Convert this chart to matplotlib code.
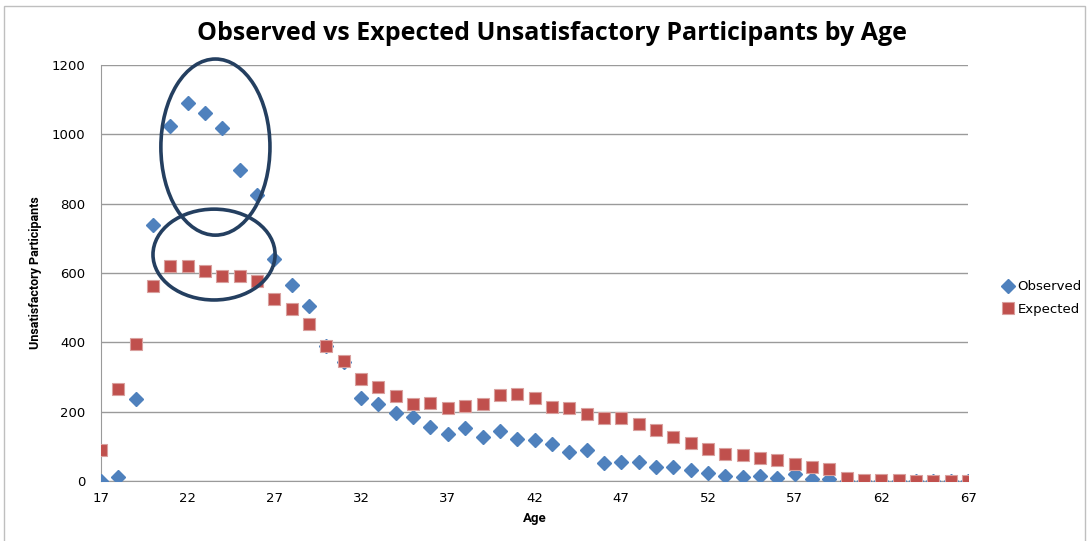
import matplotlib
matplotlib.use("Agg")
import matplotlib.pyplot as plt
from matplotlib.patches import Ellipse, Rectangle
import numpy as np


# ages 17..67
ages = list(range(17, 68))

# observed (blue diamonds)
observed = [0, 10, 236, 737, 1023, 1090, 1062, 1019, 898, 824,
            640, 564, 504, 389, 344, 239, 221, 195, 184, 157,
            136, 153, 128, 145, 120, 118, 108, 83, 90, 53,
            55, 54, 41, 41, 31, 23, 15, 10, 13, 8,
            19, 6, 7, 0, 0, 0, 0, 0, 0, 0, 0]

# expected (red squares)
expected = [89, 265, 396, 563, 619, 619, 605, 591, 590, 578,
            526, 497, 452, 390, 347, 295, 270, 244, 221, 224,
            210, 215, 221, 247, 251, 238, 213, 210, 194, 183,
            183, 164, 146, 127, 109, 93, 79, 75, 66, 59,
            48, 40, 34, 8, 4, 3, 2, 1, 1, 1, 1]

xticks = list(range(17, 68, 5))
yticks = list(range(0, 1201, 200))

blue = "#4F81BD"
red = "#C0504D"
navy = "#243F60"
grid_c = "#9A9A9A"

fig = plt.figure(figsize=(10.89, 5.41), dpi=100)
ax = fig.add_axes([0.0927, 0.111, 0.7963, 0.769])

ax.plot(ages, observed, linestyle="none", marker="D", markersize=7.5,
        color=blue, markeredgecolor=blue, label="Observed", zorder=3)
ax.plot(ages, expected, linestyle="none", marker="s", markersize=9,
        color=red, markeredgecolor="#D9A09E", markeredgewidth=0.8,
        label="Expected", zorder=3)

ax.set_xlim(17, 67)
ax.set_ylim(0, 1200)
ax.set_xticks(xticks)
ax.set_yticks(yticks)
ax.yaxis.grid(True, color=grid_c, linewidth=1)
ax.set_axisbelow(True)
for s in ["top", "right"]:
    ax.spines[s].set_visible(False)
ax.spines["left"].set_color(grid_c)
ax.spines["bottom"].set_color(grid_c)
ax.tick_params(axis="y", length=0, labelsize=9.5, pad=11)
ax.tick_params(axis="x", length=0, labelsize=9.5, pad=8)

# hand-drawn ellipses
ax.add_patch(Ellipse((23.6, 963), 6.29, 508, fill=False, edgecolor=navy,
                     linewidth=2.6, clip_on=False, zorder=4))
ax.add_patch(Ellipse((23.52, 653), 7.04, 262, fill=False, edgecolor=navy,
                     linewidth=2.6, clip_on=False, zorder=4))

ax.set_xlabel("Age", fontsize=9.5, fontweight="bold", labelpad=5,
              family=["Roboto", "DejaVu Sans"])
ax.set_ylabel("Unsatisfactory Participants", fontsize=9, fontweight="bold",
              labelpad=7, family=["Roboto", "DejaVu Sans"])

fig.text(0.507, 0.939, "Observed vs Expected Unsatisfactory Participants by Age",
         ha="center", va="center", fontsize=18, fontweight="bold",
         family=["Open Sans", "DejaVu Sans"])

ax.legend(loc="center left", bbox_to_anchor=(0.91, 0.449),
          bbox_transform=fig.transFigure, frameon=False, fontsize=9.5,
          handlelength=0.8, handletextpad=0.3, labelspacing=0.75)

# outer frame
fig.patches.append(Rectangle((0.004, -0.01), 0.992, 0.999, transform=fig.transFigure,
                             fill=False, edgecolor="#BFBFBF", linewidth=1))

fig.savefig("out.png", dpi=100)
